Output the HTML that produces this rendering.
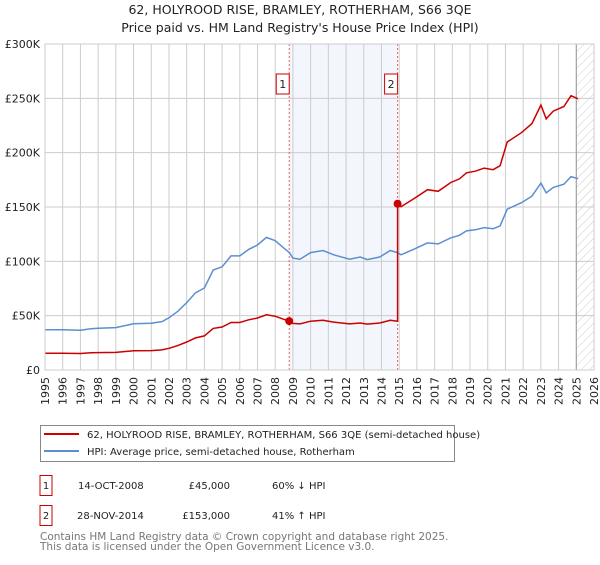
<!DOCTYPE html>
<html><head><meta charset="utf-8"><style>
body{margin:0;background:#fff;font-family:"Liberation Sans","DejaVu Sans",sans-serif;}
svg text{font-family:"DejaVu Sans","Liberation Sans",sans-serif;}
</style></head><body>
<svg id="chart" width="600" height="560" xmlns="http://www.w3.org/2000/svg">
<defs><pattern id="hatch" width="6" height="6" patternUnits="userSpaceOnUse" patternTransform="rotate(45)"><line x1="0" y1="0" x2="0" y2="6" stroke="#ccc" stroke-width="1"/></pattern></defs>
<text x="300" y="14" text-anchor="middle" font-size="12.5" fill="#222">62, HOLYROOD RISE, BRAMLEY, ROTHERHAM, S66 3QE</text>
<text x="300" y="32" text-anchor="middle" font-size="12.5" fill="#222">Price paid vs. HM Land Registry's House Price Index (HPI)</text>
<g id="plot"></g>
<g>
<rect x="40.5" y="425.5" width="414" height="36" fill="#fff" stroke="#888"/>
<line x1="44" y1="434" x2="79" y2="434" stroke="#cc0000" stroke-width="2"/>
<text x="87" y="438" font-size="10" fill="#222">62, HOLYROOD RISE, BRAMLEY, ROTHERHAM, S66 3QE (semi-detached house)</text>
<line x1="44" y1="451" x2="79" y2="451" stroke="#5b8fd0" stroke-width="2"/>
<text x="87" y="455" font-size="10" fill="#222">HPI: Average price, semi-detached house, Rotherham</text>
</g>
<g font-size="10" fill="#222">
<rect x="40" y="475.5" width="12" height="20" fill="#fff" stroke="#cc0000"/><text x="46" y="489" text-anchor="middle">1</text>
<text x="78" y="489">14-OCT-2008</text><text x="230" y="489" text-anchor="end">£45,000</text><text x="272" y="489">60% ↓ HPI</text>
<rect x="40" y="505.5" width="12" height="20" fill="#fff" stroke="#cc0000"/><text x="46" y="519" text-anchor="middle">2</text>
<text x="77" y="519">28-NOV-2014</text><text x="230" y="519" text-anchor="end">£153,000</text><text x="272" y="519">41% ↑ HPI</text>
</g>
<text x="40" y="540" font-size="10.5" fill="#777">Contains HM Land Registry data © Crown copyright and database right 2025.</text>
<text x="40" y="550" font-size="10.5" fill="#777">This data is licensed under the Open Government Licence v3.0.</text>
</svg>
<script>
const hpiYears=[1995,1996,1997,1997.6,1998,1999,2000,2001,2001.6,2002,2002.5,2003,2003.5,2004,2004.5,2005,2005.5,2006,2006.5,2007,2007.5,2008,2008.5,2008.8,2009,2009.4,2010,2010.7,2011.3,2012.2,2012.8,2013.2,2013.9,2014.5,2014.9,2015.1,2015.8,2016.6,2017.2,2017.9,2018.4,2018.8,2019.3,2019.8,2020.3,2020.7,2021.1,2021.9,2022.5,2023,2023.3,2023.7,2024.3,2024.7,2025.1];
const hpiValues=[37,37,36.5,38,38.5,39,42.5,43,44.5,48,54,62,71,75.5,92,95,105,105,111,115,122,119,112,108,103,102,108,110,106,102,104,101.6,104,110,108,106,111,117,116,121.6,124,128,129,131,130,132.6,148,154,160,172,163,168,171,178,176];
const saleYears=[2008.79,2014.91];
const salePrices=[45,153];
const yTicks=[0,50,100,150,200,250,300];
const yLabels=["£0","£50K","£100K","£150K","£200K","£250K","£300K"];
const xTicks=[1995,1996,1997,1998,1999,2000,2001,2002,2003,2004,2005,2006,2007,2008,2009,2010,2011,2012,2013,2014,2015,2016,2017,2018,2019,2020,2021,2022,2023,2024,2025,2026];
const L=45,R=594,T=44,B=370,X0=1995,X1=2026,YMAX=300;
const xs=y=>L+(y-X0)/(X1-X0)*(R-L);
const ys=v=>B-v/YMAX*(B-T);
const NS="http://www.w3.org/2000/svg";
const g=document.getElementById('plot');
function mk(t,a,p){const e=document.createElementNS(NS,t);for(const k in a)e.setAttribute(k,a[k]);(p||g).appendChild(e);return e;}
function hpiAt(y){for(let i=0;i<hpiYears.length-1;i++){if(y>=hpiYears[i]&&y<=hpiYears[i+1]){const f=(y-hpiYears[i])/(hpiYears[i+1]-hpiYears[i]);return hpiValues[i]+f*(hpiValues[i+1]-hpiValues[i]);}}return hpiValues[hpiValues.length-1];}
let sh=mk('rect',{x:xs(saleYears[0]),y:T,width:xs(saleYears[1])-xs(saleYears[0]),height:B-T,fill:'#eef2fc',opacity:0.7});


let ht=mk('rect',{x:xs(2025),y:T,width:R-xs(2025),height:B-T,fill:'url(#hatch)'});


xTicks.forEach(t=>{const l=mk('line',{x1:xs(t),x2:xs(t),y1:T,y2:B,stroke:'#ccc'});


const cx=(xs(t)+4).toFixed(1), cy=B+7;
const tx=mk('text',{x:cx,y:cy,'text-anchor':'end','font-size':'11',fill:'#222',transform:'rotate(-90 '+cx+' '+cy+')'});tx.textContent=t;

});
yTicks.forEach((t,i)=>{const l=mk('line',{x1:L,x2:R,y1:ys(t),y2:ys(t),stroke:'#ccc'});


const tx=mk('text',{x:L-5,y:ys(t)+4,'text-anchor':'end','font-size':'11',fill:'#222'});tx.textContent=yLabels[i];

});
mk('line',{x1:xs(2025),x2:xs(2025),y1:T,y2:B,stroke:'#999'});
saleYears.forEach((s,i)=>{const l=mk('line',{x1:xs(s),x2:xs(s),y1:T,y2:B,stroke:'#f06060','stroke-dasharray':'2,2'});


const r=mk('rect',{x:xs(s)-13,y:74,width:13,height:20,fill:'#fff',stroke:'#cc0000'});


const t=mk('text',{x:xs(s)-6.5,y:88,'text-anchor':'middle','font-size':'11',fill:'#222'});t.textContent=String(i+1);

});
const hp=hpiYears.map((y,i)=>xs(y).toFixed(1)+','+ys(hpiValues[i]).toFixed(1)).join(' ');
const hl=mk('polyline',{points:hp,fill:'none',stroke:'#5b8fd0','stroke-width':1.5});


const r0=salePrices[0]/hpiAt(saleYears[0]), r1=salePrices[1]/hpiAt(saleYears[1]);
let pts=[];
hpiYears.forEach((y,i)=>{if(y<saleYears[0])pts.push([y,hpiValues[i]*r0]);});
pts.push([saleYears[0],salePrices[0]]);
hpiYears.forEach((y,i)=>{if(y>saleYears[0]&&y<saleYears[1])pts.push([y,hpiValues[i]*r0]);});
pts.push([saleYears[1],hpiAt(saleYears[1])*r0]);
pts.push([saleYears[1],salePrices[1]]);
hpiYears.forEach((y,i)=>{if(y>saleYears[1])pts.push([y,hpiValues[i]*r1]);});
const pl=mk('polyline',{points:pts.map(p=>xs(p[0]).toFixed(1)+','+ys(p[1]).toFixed(1)).join(' '),fill:'none',stroke:'#cc0000','stroke-width':1.5});


saleYears.forEach((s,i)=>{const c=mk('circle',{cx:xs(s),cy:ys(salePrices[i]),r:4,fill:'#cc0000'});

});
mk('rect',{x:L,y:T,width:R-L,height:B-T,fill:'none',stroke:'#ccc'});
</script>
</body></html>
